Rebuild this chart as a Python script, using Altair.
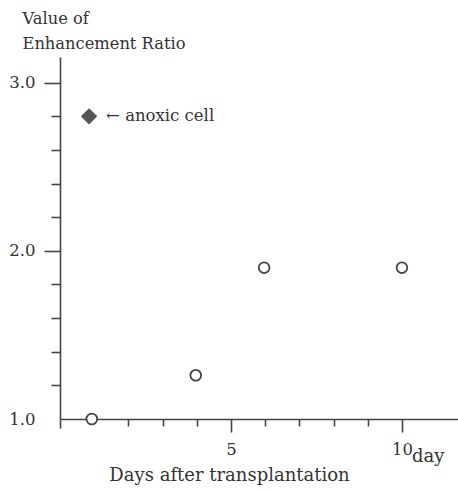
import altair as alt
import pandas as pd

# data
open_days = [0.93, 3.97, 5.97, 10.0]
open_ratio = [1.0, 1.26, 1.9, 1.9]
anoxic_day = [0.85]
anoxic_ratio = [2.8]
anoxic_label = ["← anoxic cell"]
x_label_values = [5, 10]
x_tick_values = [0, 2, 3, 4, 5, 6, 7, 8, 9, 10]
y_label_values = [1.0, 2.0, 3.0]
y_tick_values = [1.2, 1.4, 1.6, 1.8, 2.0, 2.2, 2.4, 2.6, 2.8, 3.0]

FONT = "DejaVu Serif"
AX = "#444444"
TXT = "#333333"

open_df = pd.DataFrame({"day": open_days, "ratio": open_ratio})
anox_df = pd.DataFrame({"day": anoxic_day, "ratio": anoxic_ratio, "label": anoxic_label})
day_df = pd.DataFrame({"day": [10.0], "ratio": [1.0], "label": ["day"]})

xs = alt.Scale(domain=[0, 11.64], nice=False, zero=False)
ys = alt.Scale(domain=[1, 3.153], nice=False, zero=False)

x_label_axis = alt.Axis(
    orient="bottom", values=x_label_values, ticks=False, tickSize=0, grid=False,
    domain=True, domainColor=AX, domainWidth=1.6,
    labelFont=FONT, labelFontSize=16.5, labelColor=TXT, labelPadding=22,
    title="Days after transplantation", titleFont=FONT, titleFontSize=18,
    titleFontWeight="normal", titleColor=TXT, titleX=169, titleY=61,
    titleAlign="center", titleBaseline="alphabetic",
)
y_label_axis = alt.Axis(
    orient="left", values=y_label_values, ticks=False, tickSize=0, grid=False,
    domain=True, domainColor=AX, domainWidth=1.6, format=".1f",
    labelFont=FONT, labelFontSize=16.5, labelColor=TXT, labelPadding=25,
    title=["Value of", "Enhancement Ratio"], titleFont=FONT, titleFontSize=16.3,
    titleFontWeight="normal", titleColor=TXT, titleAngle=0, titleAlign="left",
    titleBaseline="alphabetic", titleX=-38, titleY=-34, titleLineHeight=25,
)
x_tick_axis = alt.Axis(
    orient="bottom", values=x_tick_values, labels=False, domain=False, grid=False,
    tickColor=AX, tickWidth=1.6, title=None,
    tickSize={"condition": [{"test": "datum.value == 0", "value": 9},
                            {"test": "datum.value == 5 || datum.value == 10", "value": 13}],
              "value": 7},
)
y_tick_axis = alt.Axis(
    orient="left", values=y_tick_values, labels=False, domain=False, grid=False,
    tickColor=AX, tickWidth=1.6, title=None,
    tickSize={"condition": {"test": "datum.value == 2 || datum.value == 3", "value": 16},
              "value": 9},
)

circles = alt.Chart(open_df).mark_point(
    shape="circle", filled=True, fill="white", stroke="#444444", strokeWidth=1.8,
    size=115, opacity=1,
).encode(
    x=alt.X("day:Q", scale=xs, axis=x_label_axis),
    y=alt.Y("ratio:Q", scale=ys, axis=y_label_axis),
)

diamond = alt.Chart(anox_df).mark_point(
    shape="diamond", filled=True, color="#555555", size=270, opacity=1,
).encode(
    x=alt.X("day:Q", scale=xs, axis=x_tick_axis),
    y=alt.Y("ratio:Q", scale=ys, axis=y_tick_axis),
)

anox_text = alt.Chart(anox_df).mark_text(
    align="left", baseline="middle", dx=17, font=FONT, fontSize=16.5, color=TXT,
).encode(
    x=alt.X("day:Q", scale=xs, axis=None),
    y=alt.Y("ratio:Q", scale=ys, axis=None),
    text="label:N",
)

day_text = alt.Chart(day_df).mark_text(
    align="left", baseline="alphabetic", dx=10, dy=43, font=FONT, fontSize=18, color=TXT,
).encode(
    x=alt.X("day:Q", scale=xs, axis=None),
    y=alt.Y("ratio:Q", scale=ys, axis=None),
    text="label:N",
)

chart = alt.layer(circles, diamond, anox_text, day_text).resolve_axis(
    x="independent", y="independent"
).properties(
    width=398, height=362,
    autosize=alt.AutoSizeParams(type="none"),
    padding={"left": 60, "top": 57, "right": 0, "bottom": 71},
    background="white",
).configure_view(stroke=None)

chart.save("out.html", embed_options={"renderer": "svg", "actions": False})
